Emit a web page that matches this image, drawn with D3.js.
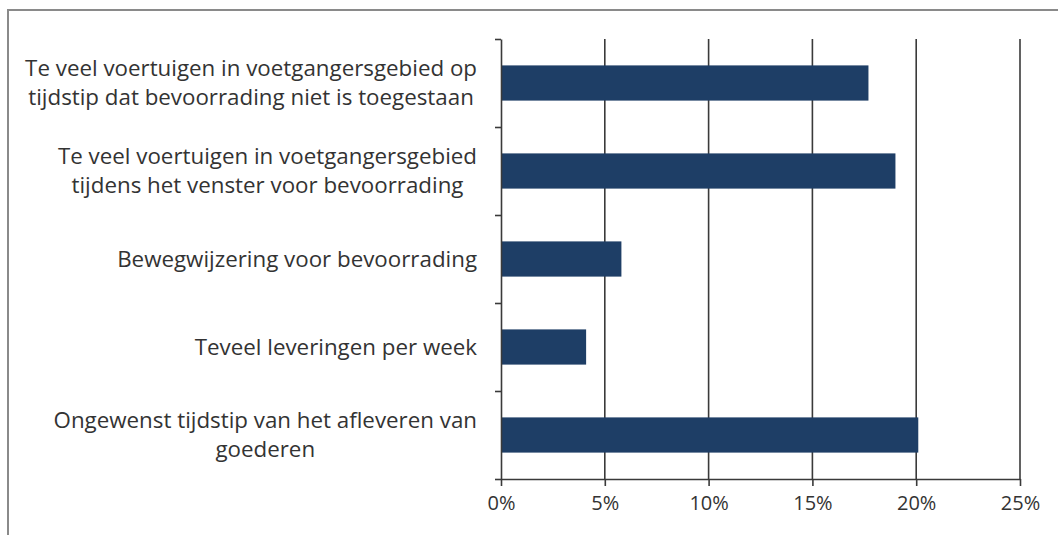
<!DOCTYPE html>
<html>
<head>
<meta charset="utf-8">
<script src="https://cdn.jsdelivr.net/npm/d3@7"></script>
<style>
  html, body { margin: 0; padding: 0; background: #fff; }
  svg { display: block; }
  text { font-family: "Open Sans", Lato, sans-serif; fill: #333; }
</style>
</head>
<body>
<svg id="chart" width="1058" height="535"></svg>
<script>
// Category labels (line breaks marked with \n) and shares per category
const categories = [
  "Te veel voertuigen in voetgangersgebied op\ntijdstip dat bevoorrading niet is toegestaan",
  "Te veel voertuigen in voetgangersgebied\ntijdens het venster voor bevoorrading",
  "Bewegwijzering voor bevoorrading",
  "Teveel leveringen per week",
  "Ongewenst tijdstip van het afleveren van\ngoederen"
];
const values = [0.177, 0.190, 0.058, 0.041, 0.201];
const xTicks = [0, 0.05, 0.10, 0.15, 0.20, 0.25];

const svg = d3.select("#chart");
const W = 1058, H = 535;
const plot = { left: 501, right: 1020, top: 39, bottom: 479 };

// outer frame (top and left edges visible)
svg.append("path")
  .attr("d", `M8,${H} L8,10 L${W},10`)
  .attr("fill", "none")
  .attr("stroke", "#8a8a8a")
  .attr("stroke-width", 2);

const x = d3.scaleLinear().domain([0, 0.25]).range([plot.left, plot.right]);
const y = d3.scaleBand().domain(d3.range(categories.length))
  .range([plot.top, plot.bottom]).paddingInner(0.6).paddingOuter(0.3);

// vertical gridlines
svg.append("g").selectAll("line")
  .data(xTicks.slice(1))
  .join("line")
  .attr("x1", d => x(d)).attr("x2", d => x(d))
  .attr("y1", plot.top).attr("y2", plot.bottom)
  .attr("stroke", "#3a3a3a").attr("stroke-width", 1.6);

// bars
svg.append("g").selectAll("rect")
  .data(values)
  .join("rect")
  .attr("x", x(0))
  .attr("y", (d, i) => y(i))
  .attr("width", d => x(d) - x(0))
  .attr("height", y.bandwidth())
  .attr("fill", "#1e3e66");

// x axis
const xAxis = svg.append("g")
  .attr("transform", `translate(0,${plot.bottom})`)
  .call(d3.axisBottom(x).tickValues(xTicks).tickFormat(d3.format(".0%")).tickSize(7).tickSizeOuter(0));
xAxis.select(".domain").attr("stroke", "#3a3a3a").attr("stroke-width", 1.6);
xAxis.selectAll(".tick line").attr("stroke", "#3a3a3a").attr("stroke-width", 1.6);
xAxis.selectAll(".tick text")
  .attr("y", 17)
  .attr("font-size", 20)
  .attr("font-family", "'Open Sans', Lato, sans-serif")
  .attr("fill", "#333");

// y axis: ticks at category boundaries
const yb = d3.scaleLinear().domain([0, categories.length]).range([plot.top, plot.bottom]);
const yAxis = svg.append("g")
  .attr("transform", `translate(${plot.left},0)`)
  .call(d3.axisLeft(yb).tickValues(d3.range(categories.length + 1)).tickFormat("").tickSize(6).tickSizeOuter(0));
yAxis.select(".domain").attr("stroke", "#3a3a3a").attr("stroke-width", 1.6);
yAxis.selectAll(".tick line").attr("stroke", "#3a3a3a").attr("stroke-width", 1.6);

// category labels: block right-aligned, lines centred within the block
const labelRight = 477, labelLeft = 25, lineH = 29;
const lg = svg.append("g");
// size the font so the widest line spans the label column
const probe = lg.append("text").attr("font-size", 20);
const widest = d3.max(categories.flatMap(c => c.split("\n")), l => {
  probe.text(l);
  return probe.node().getComputedTextLength();
});
probe.remove();
const fs = 20 * (labelRight - labelLeft) / widest;

categories.forEach((c, i) => {
  const lines = c.split("\n");
  const cy = y(i) + y.bandwidth() / 2;
  const tmp = lines.map(l => {
    const t = lg.append("text").attr("font-size", fs).text(l);
    return { t, w: t.node().getComputedTextLength() };
  });
  const bw = d3.max(tmp, d => d.w);
  const cx = labelRight - bw / 2;
  tmp.forEach((d, k) => {
    d.t.attr("x", cx)
      .attr("text-anchor", "middle")
      .attr("y", cy + (k - (lines.length - 1) / 2) * lineH)
      .attr("dy", "0.35em");
  });
});
</script>
</body>
</html>
